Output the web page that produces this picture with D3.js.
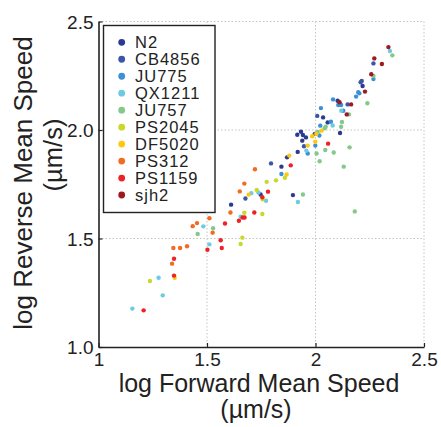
<!DOCTYPE html>
<html>
<head>
<meta charset="utf-8">
<script src="https://cdn.jsdelivr.net/npm/d3@7"></script>
<style>
  html, body { margin: 0; padding: 0; background: #fff; }
  svg { display: block; font-family: "Liberation Sans", Arial, Helvetica, sans-serif; }
</style>
</head>
<body>
<svg id="chart" width="441" height="427"></svg>
<script>
// ---- data (log10 forward speed, log10 reverse speed) ----
const strains = ["N2", "CB4856", "JU775", "QX1211", "JU757", "PS2045", "DF5020", "PS312", "PS1159", "sjh2"];
const palette = ["#2b3a8f", "#3a57a7", "#3d90d3", "#6ccbe0", "#84c98a", "#c8d82c", "#fdc810", "#f26b22", "#ec2227", "#9c1b20"];

const N2 = [[2.217,2.203],[2.102,2.135],[2.035,2.058],[2.056,2.035],[2.113,1.986],[1.933,1.992],[1.916,1.978],[1.942,1.977],[1.956,1.966],[1.939,1.951],[1.918,1.899],[1.869,1.874],[1.843,1.831],[1.747,1.703],[1.896,1.700],[1.611,1.656]];
const CB4856 = [[2.267,2.307],[2.213,2.226],[2.208,2.220],[2.148,2.118],[2.008,2.065],[1.996,1.982],[1.947,1.925],[1.795,1.846],[1.677,1.684]];
const JU775 = [[2.267,2.235],[2.197,2.174],[2.202,2.169],[2.187,2.154],[2.081,2.141],[2.105,2.115],[2.118,2.115],[2.128,2.089],[2.025,2.101],[2.071,2.038],[2.022,2.020],[2.018,1.975],[1.999,1.928],[1.964,1.892],[1.843,1.797]];
const QX1211 = [[2.343,2.364],[2.119,2.089],[2.079,2.021],[1.958,1.905],[1.704,1.709],[1.737,1.712],[1.772,1.674],[1.919,1.668],[1.655,1.600],[1.483,1.556],[1.511,1.473],[1.277,1.319],[1.296,1.238],[1.156,1.177]];
const JU757 = [[2.354,2.344],[2.267,2.249],[2.239,2.123],[2.154,2.072],[2.047,2.015],[2.042,2.008],[2.122,2.037],[2.118,2.015],[2.010,1.991],[2.157,1.920],[2.005,1.892],[2.045,1.908],[2.084,1.896],[2.019,1.856],[2.130,1.831],[1.942,1.703],[2.181,1.625],[1.528,1.547],[1.457,1.521]];
const PS2045 = [[1.859,1.780],[1.818,1.768],[1.775,1.761],[1.729,1.724],[1.757,1.681],[1.672,1.619],[1.755,1.613],[1.663,1.504],[1.655,1.475],[1.237,1.304]];
const DF5020 = [[2.028,1.997],[2.004,1.982],[1.985,1.971],[1.999,1.946],[1.964,1.928],[1.879,1.882],[1.867,1.795],[1.692,1.702],[1.351,1.319]];
const PS312 = [[1.721,1.819],[1.672,1.753],[1.651,1.717],[1.608,1.620],[1.511,1.593],[1.454,1.571],[1.434,1.557],[1.526,1.527],[1.345,1.456],[1.376,1.456],[1.408,1.464],[1.339,1.384]];
const PS1159 = [[2.058,1.937],[1.886,1.837],[1.781,1.716],[1.755,1.690],[1.718,1.620],[1.664,1.597],[1.673,1.597],[1.647,1.582],[1.583,1.569],[1.563,1.492],[1.568,1.456],[1.502,1.448],[1.348,1.407],[1.348,1.329],[1.208,1.169]];
const sjh2 = [[2.336,2.382],[2.271,2.330],[2.306,2.304],[2.257,2.257],[2.228,2.177],[2.111,2.128],[2.164,2.118],[2.144,2.072]];

const xTicks = [1, 1.5, 2, 2.5];
const xTickLabels = ["1", "1.5", "2", "2.5"];
const yTicks = [1, 1.5, 2, 2.5];
const yTickLabels = ["1.0", "1.5", "2.0", "2.5"];
const xTitle = ["log Forward Mean Speed", "(\u00b5m/s)"];
const yTitle = ["log Reverse Mean Speed", "(\u00b5m/s)"];

const seriesData = [N2, CB4856, JU775, QX1211, JU757, PS2045, DF5020, PS312, PS1159, sjh2];
const series = strains.map((name, i) => ({ name, color: palette[i], points: seriesData[i] }));

// ---- layout ----
const svg = d3.select("#chart");
const L = 98.5, R = 424, T = 21.5, B = 347;
const x = d3.scaleLinear().domain([1, 2.5]).range([L, R]);
const y = d3.scaleLinear().domain([1, 2.5]).range([B, T]);

// grid (dotted)
const grid = svg.append("g").attr("stroke", "#c4c4c4").attr("stroke-width", 1).attr("stroke-dasharray", "1.5,2");
xTicks.filter(v => v > 1).forEach(v => {
  grid.append("line").attr("x1", x(v)).attr("x2", x(v)).attr("y1", T).attr("y2", B);
});
yTicks.filter(v => v > 1).forEach(v => {
  grid.append("line").attr("x1", L).attr("x2", R).attr("y1", y(v)).attr("y2", y(v));
});

// axes
const xAxis = d3.axisBottom(x).tickValues(xTicks).tickFormat((d, i) => xTickLabels[i]).tickSizeInner(-4).tickSizeOuter(0).tickPadding(9);
const yAxis = d3.axisLeft(y).tickValues(yTicks).tickFormat((d, i) => yTickLabels[i]).tickSizeInner(-4).tickSizeOuter(0).tickPadding(5);

const gx = svg.append("g").attr("transform", `translate(0,${B})`).call(xAxis);
const gy = svg.append("g").attr("transform", `translate(${L},0)`).call(yAxis);
[gx, gy].forEach(g => {
  g.select(".domain").attr("stroke", "#222").attr("stroke-width", 1.6);
  g.selectAll(".tick line").attr("stroke", "#222").attr("stroke-width", 1.2);
  g.selectAll(".tick text").attr("fill", "#222").style("font-size", "19px").style("font-family", "'Liberation Sans', Arial, sans-serif");
});
gx.selectAll(".tick text").attr("dy", "0.55em");
gy.selectAll(".tick text").attr("dy", "0.35em");

// points
series.forEach(s => {
  svg.append("g").selectAll("circle").data(s.points).join("circle")
    .attr("cx", d => x(d[0])).attr("cy", d => y(d[1])).attr("r", 2.2)
    .attr("fill", s.color);
});

// legend
const lg = svg.append("g");
lg.append("rect").attr("x", 103.5).attr("y", 25.5).attr("width", 111.5).attr("height", 187)
  .attr("fill", "#fff").attr("stroke", "#222").attr("stroke-width", 1.4);
const rowY = d3.scaleLinear().domain([0, strains.length - 1]).range([42.3, 195]);
series.forEach((s, i) => {
  lg.append("circle").attr("cx", 121.7).attr("cy", rowY(i)).attr("r", 3.4).attr("fill", s.color);
  lg.append("text").attr("x", 135).attr("y", rowY(i) + 5.8).text(s.name)
    .attr("fill", "#222").style("font-size", "16.5px").style("letter-spacing", "1px");
});

// axis titles
svg.append("text").attr("x", 259).attr("y", 392).attr("text-anchor", "middle")
  .style("font-size", "25px").attr("fill", "#222").text(xTitle[0]);
svg.append("text").attr("x", 256).attr("y", 418).attr("text-anchor", "middle")
  .style("font-size", "25px").attr("fill", "#222").text(xTitle[1]);
svg.append("text").attr("transform", "translate(32,183) rotate(-90)").attr("text-anchor", "middle")
  .style("font-size", "26px").attr("fill", "#222").text(yTitle[0]);
svg.append("text").attr("transform", "translate(62,155) rotate(-90)").attr("text-anchor", "middle")
  .style("font-size", "25.5px").attr("fill", "#222").text(yTitle[1]);
</script>
</body>
</html>
